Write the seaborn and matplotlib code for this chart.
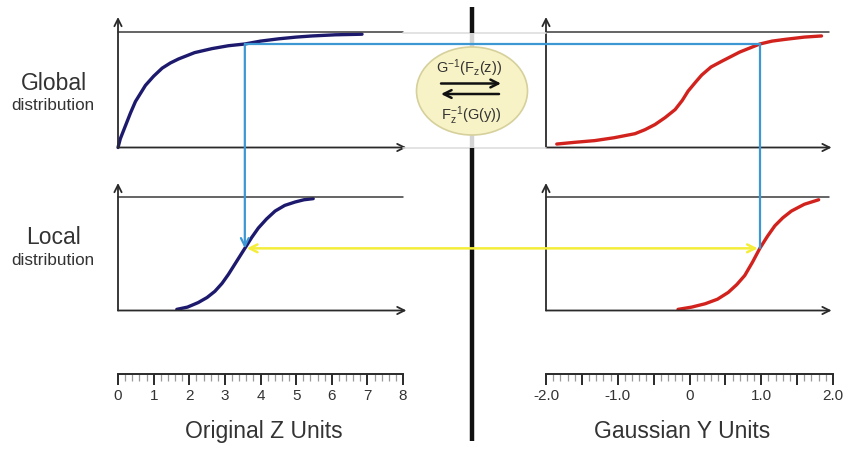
import matplotlib
matplotlib.use("Agg")
import matplotlib.pyplot as plt
import seaborn as sns
import numpy as np
from matplotlib.patches import Ellipse

# ---------------- data ----------------
z_global = [0.0, 0.065, 0.21, 0.35, 0.49, 0.63, 0.77, 1.0, 1.24, 1.47, 1.70, 2.15,
            2.64, 3.1, 3.56, 4.0, 4.51, 5.0, 5.45, 6.1, 6.85]
F_global = [0.0, 0.076, 0.19, 0.30, 0.40, 0.47, 0.54, 0.62, 0.69, 0.735, 0.77, 0.825,
            0.86, 0.885, 0.90, 0.925, 0.945, 0.96, 0.97, 0.98, 0.985]

y_global = [-1.85, -1.6, -1.32, -1.05, -0.76, -0.62, -0.48, -0.34, -0.20, -0.10, -0.02,
            0.08, 0.17, 0.30, 0.45, 0.70, 0.98, 1.15, 1.33, 1.6, 1.84]
G_global = [0.03, 0.045, 0.06, 0.085, 0.12, 0.155, 0.20, 0.26, 0.33, 0.41, 0.49,
            0.565, 0.63, 0.70, 0.75, 0.83, 0.90, 0.925, 0.94, 0.96, 0.97]

z_local = [1.65, 1.95, 2.25, 2.5, 2.72, 2.92, 3.10, 3.33, 3.56, 3.75, 3.94, 4.17,
           4.41, 4.68, 4.97, 5.22, 5.48]
F_local = [0.01, 0.03, 0.07, 0.115, 0.17, 0.24, 0.32, 0.435, 0.55, 0.645, 0.73, 0.81,
           0.88, 0.93, 0.96, 0.98, 0.99]

y_local = [-0.16, 0.03, 0.22, 0.39, 0.54, 0.66, 0.77, 0.88, 0.98, 1.09, 1.19, 1.30,
           1.42, 1.6, 1.80]
G_local = [0.01, 0.03, 0.06, 0.10, 0.16, 0.23, 0.31, 0.43, 0.55, 0.66, 0.75, 0.82,
           0.88, 0.94, 0.98]

z_mark = 3.56      # original value being transformed
y_mark = 0.98      # its gaussian equivalent
p_global = 0.90    # global cdf level
p_local = 0.55     # local cdf level

z_ticks = [0, 1, 2, 3, 4, 5, 6, 7, 8]
z_tick_labels = ["0", "1", "2", "3", "4", "5", "6", "7", "8"]
y_ticks = [-2.0, -1.5, -1.0, -0.5, 0.0, 0.5, 1.0, 1.5, 2.0]
y_tick_labels = ["-2.0", "", "-1.0", "", "0", "", "1.0", "", "2.0"]

row_labels = ["Global", "Local"]
sub_label = "distribution"
x_titles = ["Original Z Units", "Gaussian Y Units"]
fwd_label = r"$\mathregular{G^{-1}(F_z(z))}$"
bwd_label = r"$\mathregular{F_z^{-1}(G(y))}$"

# ---------------- style ----------------
sns.set_theme(style="white")
plt.rcParams["font.family"] = ["Liberation Sans", "DejaVu Sans"]

NAVY = "#1d1a6e"
RED = "#d2221d"
BLUE = "#3c97d3"
YELLOW = "#f4ee3a"
AX = "#2a2a2a"
TXT = "#333333"

W, H = 846, 449
fig = plt.figure(figsize=(W / 100, H / 100), dpi=100)
fig.patch.set_facecolor("white")


def px_axes(x0, x1, ytop, ybot):
    return fig.add_axes([x0 / W, 1 - ybot / H, (x1 - x0) / W, (ybot - ytop) / H])


def panel(x0, x1, ytop, ybot, xlim, xs, ys, color, top_end, arrow_end, tip):
    ax = px_axes(x0, x1, ytop, ybot)
    sns.lineplot(x=xs, y=ys, ax=ax, color=color, linewidth=2.4, estimator=None)
    for ln in ax.lines:
        ln.set_clip_on(False)
        ln.set_solid_capstyle("round")
        ln.set_solid_joinstyle("round")
    ax.set_xlim(*xlim)
    ax.set_ylim(0, 1)
    ax.set_axis_off()
    h = ybot - ytop
    ap = dict(arrowstyle="->", color=AX, lw=1.3, shrinkA=0, shrinkB=0, mutation_scale=13)
    ax.annotate("", xy=(arrow_end, 0), xytext=(0, 0), xycoords="axes fraction",
                textcoords="axes fraction", arrowprops=ap)
    ax.annotate("", xy=(0, 1 + (ytop - tip) / h), xytext=(0, 0), xycoords="axes fraction",
                textcoords="axes fraction", arrowprops=ap)
    ax.plot([0, top_end], [1, 1], transform=ax.transAxes, color="#3a3a3a", lw=1.1,
            clip_on=False)
    return ax


ax_tl = panel(118, 403, 32.5, 147.5, (0, 8), z_global, F_global, NAVY, 1.0, 1.012, 17)
ax_tr = panel(546, 833, 32.5, 147.5, (-2, 2), y_global, G_global, RED, 0.985, 0.995, 17)
ax_bl = panel(118, 403, 197.5, 310.5, (0, 8), z_local, F_local, NAVY, 1.0, 1.012, 183)
ax_br = panel(546, 833, 197.5, 310.5, (-2, 2), y_local, G_local, RED, 0.985, 0.995, 183)


# ---------------- rulers ----------------
def ruler(x0, x1, xlim, ticks, labels, minor_step, title, title_x):
    ax = px_axes(x0, x1, 364, 374)
    ax.set_xlim(*xlim)
    ax.set_ylim(0, 1)
    ax.set_facecolor("none")
    for s in ["top", "left", "right"]:
        ax.spines[s].set_visible(False)
    ax.spines["bottom"].set_color(AX)
    ax.spines["bottom"].set_linewidth(1.4)
    ax.set_yticks([])
    ax.set_xticks(ticks)
    ax.set_xticklabels(labels)
    ax.set_xticks(np.arange(xlim[0], xlim[1] + 1e-9, minor_step), minor=True)
    ax.tick_params(axis="x", which="major", direction="out", length=8, width=1.4,
                   color=AX, labelsize=11, labelcolor=TXT, pad=3, bottom=True)
    ax.tick_params(axis="x", which="minor", direction="out", length=5, width=0.9,
                   color="#9a9a9a", bottom=True)
    ax.grid(False)
    fig.text(title_x / W, 1 - 438 / H, title, ha="center", va="baseline",
             fontsize=16.5, color=TXT)
    return ax


ruler(118, 403, (0, 8), z_ticks, z_tick_labels, 0.2, x_titles[0], 264)
ruler(546, 833, (-2, 2), y_ticks, y_tick_labels, 0.1, x_titles[1], 682)

# ---------------- overlay ----------------
ov = fig.add_axes([0, 0, 1, 1])
ov.set_xlim(0, W)
ov.set_ylim(H, 0)
ov.set_axis_off()
ov.patch.set_alpha(0)


def to_px(ax, x, y):
    dx, dy = ax.transData.transform((x, y))
    return dx, H - dy


# faint connectors between panels and the divider
ov.plot([403, 546], [32.5, 32.5], color="#dedede", lw=1.2, zorder=1)
ov.plot([403, 546], [147.5, 147.5], color="#dedede", lw=1.2, zorder=1)
ov.plot([472, 472], [7, 32.5], color="#111111", lw=3.2, solid_capstyle="butt", zorder=2)
ov.plot([472, 472], [32.5, 147.5], color="#d4d4d4", lw=3.2, solid_capstyle="butt", zorder=1)
ov.plot([472, 472], [147.5, 441], color="#111111", lw=3.2, solid_capstyle="butt", zorder=2)

p1 = to_px(ax_tl, z_mark, p_global)
p2 = to_px(ax_tr, y_mark, p_global)
p3 = to_px(ax_bl, z_mark, p_local)
p4 = to_px(ax_br, y_mark, p_local)

ov.plot([p1[0], p2[0]], [p1[1], p2[1]], color=BLUE, lw=1.6, zorder=3)
ov.plot([p2[0], p4[0]], [p2[1], p4[1]], color=BLUE, lw=1.6, zorder=3)
ov.annotate("", xy=p3, xytext=p1,
            arrowprops=dict(arrowstyle="->", color=BLUE, lw=1.6, shrinkA=0, shrinkB=0,
                            mutation_scale=14), zorder=3)
ov.annotate("", xy=p4, xytext=p3,
            arrowprops=dict(arrowstyle="<->", color=YELLOW, lw=1.8, shrinkA=1.5, shrinkB=1.5,
                            mutation_scale=14), zorder=3)

# ellipse with the transforms
ov.add_patch(Ellipse((472, 91), 111, 88, facecolor="#f8f3c6", edgecolor="#d6d09c",
                     lw=1.2, zorder=4))
ov.text(469, 68, fwd_label, ha="center", va="center", fontsize=10.5, color=TXT, zorder=5)
ov.text(471, 116, bwd_label, ha="center", va="center", fontsize=10.5, color=TXT, zorder=5)
ov.annotate("", xy=(501, 83.5), xytext=(441, 83.5),
            arrowprops=dict(arrowstyle="->", color="#111111", lw=1.8, shrinkA=0, shrinkB=0,
                            mutation_scale=14), zorder=5)
ov.annotate("", xy=(441, 94), xytext=(499, 94),
            arrowprops=dict(arrowstyle="->", color="#111111", lw=1.8, shrinkA=0, shrinkB=0,
                            mutation_scale=14), zorder=5)

# row labels
for lab, y_big, y_small in [(row_labels[0], 90, 110), (row_labels[1], 244, 265)]:
    ov.text(54, y_big, lab, ha="center", va="baseline", fontsize=16.5, color=TXT)
    ov.text(53, y_small, sub_label, ha="center", va="baseline", fontsize=12.3, color=TXT)

fig.savefig("out.png", dpi=100, facecolor="white")
